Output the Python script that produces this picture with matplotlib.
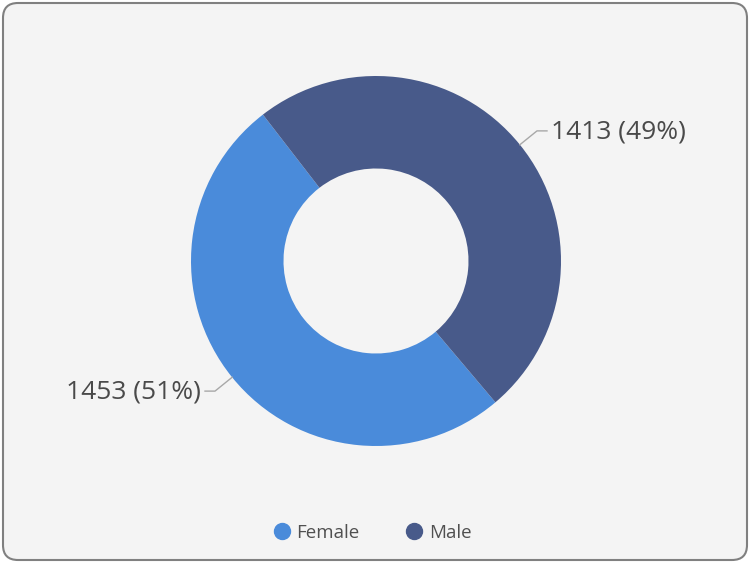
import numpy as np
import matplotlib.pyplot as plt
from matplotlib.patches import FancyBboxPatch
from matplotlib.lines import Line2D

# data
genders = ["Female", "Male"]
counts = [1453, 1413]
colors = ["#4A8BDA", "#485A8A"]

W, H = 750, 563
fig = plt.figure(figsize=(W / 100, H / 100), dpi=100, facecolor="white")

# card background with rounded border (behind the axes)
card = FancyBboxPatch((3 / W, 3 / H), (W - 6) / W, (H - 6) / H,
                      boxstyle="round,pad=0,rounding_size=0.02",
                      transform=fig.transFigure, facecolor="#F4F4F4",
                      edgecolor="#808080", linewidth=1.5, mutation_aspect=W / H,
                      zorder=-10)
fig.patches.append(card)

ax = fig.add_axes([0, 0, 1, 1])
ax.patch.set_alpha(0)

cx, cy, r = 376, H - 261, 185
total = sum(counts)
start = -49.8

wedges, _ = ax.pie(counts, colors=colors, startangle=start, counterclock=False,
                   center=(cx, cy), radius=r,
                   wedgeprops=dict(width=r * 0.5, linewidth=0))

ax.set_xlim(0, W)
ax.set_ylim(0, H)
ax.set_aspect("equal")
ax.axis("off")

# data labels with leader lines
for w, n in zip(wedges, counts):
    mid = np.deg2rad((w.theta1 + w.theta2) / 2)
    dx, dy = np.cos(mid), np.sin(mid)
    p0 = (cx + r * dx, cy + r * dy)
    p1 = (cx + (r + 22) * dx, cy + (r + 22) * dy)
    side = 1 if dx > 0 else -1
    p2 = (p1[0] + 10 * side, p1[1])
    ax.plot([p0[0], p1[0], p2[0]], [p0[1], p1[1], p2[1]],
            color="#A8A8A8", lw=1)
    pct = round(n / total * 100)
    ax.text(p2[0] + 4 * side, p2[1] - 1, f"{n} ({pct}%)",
            ha="left" if side > 0 else "right", va="center",
            fontsize=19, family=["Open Sans", "DejaVu Sans"], color="#4A4A4A")

handles = [Line2D([], [], marker="o", linestyle="", markersize=11.5,
                  markerfacecolor=c, markeredgecolor=c) for c in colors]
leg = ax.legend(handles, genders, loc="center", bbox_to_anchor=(372 / W, 30 / H),
                ncol=2, frameon=False, handletextpad=0.3, columnspacing=2.4,
                handlelength=1.0, prop={"family": ["Open Sans", "DejaVu Sans"], "size": 13.5})
for t in leg.get_texts():
    t.set_color("#505050")

fig.savefig("out.png", dpi=100, facecolor="white")
